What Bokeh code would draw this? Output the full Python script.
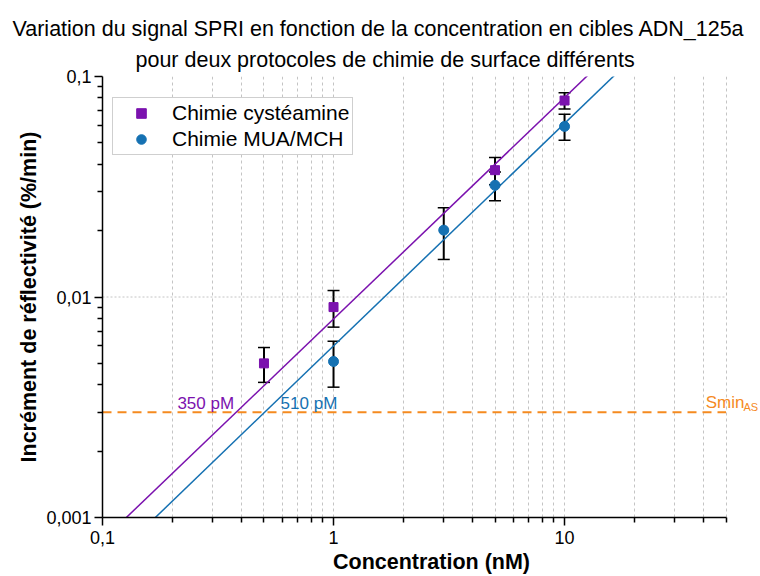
import numpy as np
from bokeh.plotting import figure
from bokeh.models import (ColumnDataSource, Whisker, TeeHead, FixedTicker, Legend,
                          LegendItem, Label, Title)
from bokeh.embed import file_html
from bokeh.resources import INLINE

# ---------------- data ----------------
title_lines = ["Variation du signal SPRI en fonction de la concentration en cibles ADN_125a",
               "pour deux protocoles de chimie de surface différents"]
x_label = "Concentration (nM)"
y_label = "Incrément de réflectivité (%/min)"

series_names = ["Chimie cystéamine", "Chimie MUA/MCH"]

cys_conc = [0.5, 1, 5, 10]
cys_signal = [0.0050, 0.0090, 0.0376, 0.0778]
cys_err = [0.0009, 0.0017, 0.0053, 0.0065]

mua_conc = [1, 3, 5, 10]
mua_signal = [0.0051, 0.0201, 0.0321, 0.0594]
mua_err = [0.0012, 0.0053, 0.0048, 0.0080]

# power-law fits  y = a * x**b
cys_fit_a, cys_fit_b = 0.00795, 1.004
mua_fit_a, mua_fit_b = 0.0060, 1.009
fit_x = [0.1, 50]

smin_as = 0.003
lod_labels = ["350 pM", "510 pM"]

x_major = [0.1, 1, 10]
x_major_labels = ["0,1", "1", "10"]
x_minor = [0.2, 0.3, 0.4, 0.5, 0.6, 0.7, 0.8, 0.9, 2, 3, 4, 5, 6, 7, 8, 9, 20, 30, 40, 50]
x_axis_end = 50
y_major = [0.001, 0.01, 0.1]
y_major_labels = ["0,001", "0,01", "0,1"]
y_minor = [0.002, 0.003, 0.004, 0.005, 0.006, 0.007, 0.008, 0.009,
           0.02, 0.03, 0.04, 0.05, 0.06, 0.07, 0.08, 0.09]

# ---------------- styles ----------------
PURPLE = "#7b12ae"
BLUE = "#1571b2"
ORANGE = "#f58a1f"
GRID = "#c4c4c4"
FONT = "Liberation Sans"

# frame extends to the right edge so the Smin label can sit past the axis end
p = figure(width=760, height=576, x_axis_type="log", y_axis_type="log",
           x_range=(0.1, 70.5), y_range=(0.001, 0.1),
           output_backend="svg", toolbar_location=None,
           min_border_left=102, min_border_right=0, min_border_top=76, min_border_bottom=58)
p.outline_line_color = None
p.background_fill_color = "white"
p.border_fill_color = "white"

# titles (first added is closest to the plot)
t2 = Title(text=title_lines[1], align="left", offset=33, text_font_size="21.5px",
           text_font_style="normal", text_font=FONT, text_color="black", standoff=10)
t1 = Title(text=title_lines[0], align="left", offset=-90, text_font_size="21.5px",
           text_font_style="normal", text_font=FONT, text_color="black", standoff=0)
p.add_layout(t2, "above")
p.add_layout(t1, "above")

# axes
p.xaxis.ticker = FixedTicker(ticks=x_major, minor_ticks=x_minor)
p.yaxis.ticker = FixedTicker(ticks=y_major, minor_ticks=y_minor)
p.xaxis.major_label_overrides = dict(zip(x_major, x_major_labels))
p.yaxis.major_label_overrides = dict(zip(y_major, y_major_labels))
p.xaxis.bounds = (x_major[0], x_axis_end)
p.xaxis.axis_label = x_label
p.yaxis.axis_label = y_label
for ax in (p.xaxis[0], p.yaxis[0]):
    ax.axis_line_color = "black"
    ax.axis_line_width = 1.5
    ax.major_tick_line_color = "black"
    ax.minor_tick_line_color = "black"
    ax.major_tick_line_width = 1.5
    ax.minor_tick_line_width = 1.5
    ax.major_tick_out = 8
    ax.major_tick_in = 0
    ax.minor_tick_out = 5
    ax.minor_tick_in = 0
    ax.major_label_text_font = FONT
    ax.major_label_text_font_size = "18px"
    ax.major_label_text_color = "black"
    ax.axis_label_text_font = FONT
    ax.axis_label_text_font_size = "21.5px"
    ax.axis_label_text_font_style = "bold"
    ax.axis_label_text_color = "black"
p.xaxis.major_label_standoff = 5
p.xaxis.axis_label_standoff = 3
p.yaxis.major_label_standoff = 3
p.yaxis.axis_label_standoff = 2

# grids
p.xgrid.ticker = FixedTicker(ticks=x_major, minor_ticks=x_minor)
p.xgrid.grid_line_color = GRID
p.xgrid.grid_line_dash = "3 3"
p.xgrid.minor_grid_line_color = GRID
p.xgrid.minor_grid_line_dash = "3 3"
p.ygrid.visible = False
ygrid_ticks = [y_major[1]]
p.segment(x0=[x_major[0]] * len(ygrid_ticks), x1=[x_axis_end] * len(ygrid_ticks),
          y0=ygrid_ticks, y1=ygrid_ticks, line_color=GRID, line_width=1, line_dash="2 2")

# Smin line
p.line([x_major[0], x_axis_end], [smin_as, smin_as], line_color=ORANGE,
       line_width=2, line_dash="9 6")

# fit lines
fx = np.array(fit_x, dtype=float)
p.line(fx, cys_fit_a * fx ** cys_fit_b, line_color=PURPLE, line_width=1.5)
p.line(fx, mua_fit_a * fx ** mua_fit_b, line_color=BLUE, line_width=1.5)

# data with error bars
def add_series(conc, sig, err, color, marker, size):
    sig = np.array(sig)
    err = np.array(err)
    src = ColumnDataSource(dict(x=conc, y=sig, upper=sig + err, lower=sig - err))
    w = Whisker(base="x", upper="upper", lower="lower", source=src,
                line_color="black", line_width=2,
                upper_head=TeeHead(size=12, line_color="black", line_width=1.5),
                lower_head=TeeHead(size=12, line_color="black", line_width=1.5))
    p.add_layout(w)
    return p.scatter("x", "y", source=src, marker=marker, size=size,
                     fill_color=color, line_color=color)

r_cys = add_series(cys_conc, cys_signal, cys_err, PURPLE, "square", 9)
r_mua = add_series(mua_conc, mua_signal, mua_err, BLUE, "circle", 10)

legend = Legend(items=[LegendItem(label=series_names[0], renderers=[r_cys]),
                       LegendItem(label=series_names[1], renderers=[r_mua])],
                location=(10, 362), padding=3, spacing=2, margin=0,
                glyph_width=50, glyph_height=24, label_standoff=6,
                label_text_font=FONT, label_text_font_size="21px",
                label_text_color="black",
                border_line_color="#a0a0a0", border_line_width=1,
                background_fill_color="white", background_fill_alpha=1)
p.add_layout(legend)

# annotations (positive y_offset moves up)
p.add_layout(Label(x=0.211, y=smin_as, y_offset=9, text=lod_labels[0], text_color=PURPLE,
                   text_font=FONT, text_font_size="17px", text_baseline="alphabetic"))
p.add_layout(Label(x=0.59, y=smin_as, y_offset=9, text=lod_labels[1], text_color=BLUE,
                   text_font=FONT, text_font_size="17px", text_baseline="alphabetic"))
p.add_layout(Label(x=40.8, y=smin_as, y_offset=10, text="Smin", text_color=ORANGE,
                   text_font=FONT, text_font_size="17px", text_baseline="alphabetic"))
p.add_layout(Label(x=59.5, y=smin_as, y_offset=5, text="AS", text_color=ORANGE,
                   text_font=FONT, text_font_size="11px", text_baseline="alphabetic"))

open("out.html", "w").write(file_html(p, INLINE))
